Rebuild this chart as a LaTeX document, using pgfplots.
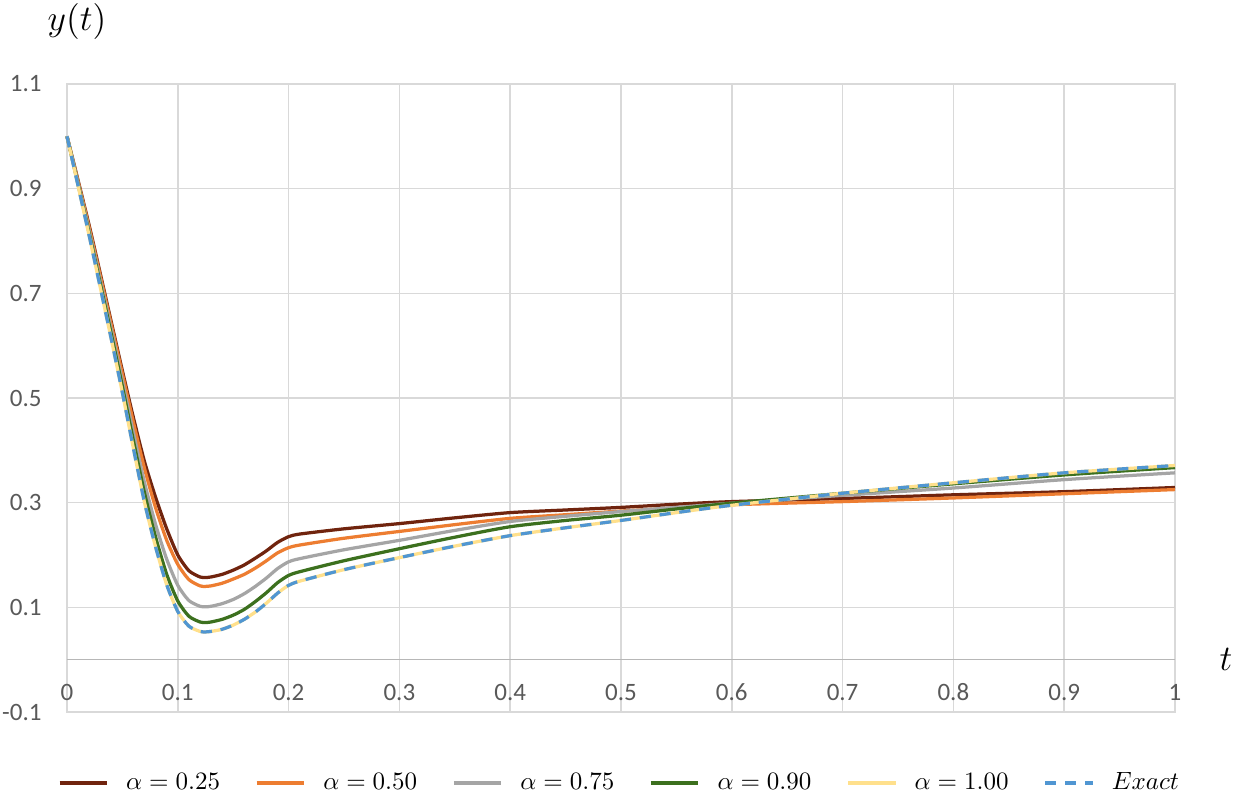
\documentclass[border=0pt]{standalone}
\usepackage[no-math]{fontspec}
\setmainfont{Carlito}
\usepackage{pgfplots}
\pgfplotsset{compat=1.18}
\definecolor{cBrown}{RGB}{112,36,14}
\definecolor{cOrange}{RGB}{237,125,49}
\definecolor{cGray}{RGB}{165,165,165}
\definecolor{cGreen}{RGB}{60,112,30}
\definecolor{cYellow}{RGB}{255,224,140}
\definecolor{cBlue}{RGB}{80,150,210}
\definecolor{cGrid}{RGB}{217,217,217}
\definecolor{cTick}{RGB}{89,89,89}

% t  y
\pgfplotstableread{
t y
0 1.000
0.02 0.830
0.04 0.645
0.05 0.552
0.06 0.462
0.07 0.378
0.08 0.310
0.09 0.250
0.10 0.200
0.11 0.170
0.12 0.158
0.125 0.157
0.13 0.158
0.14 0.163
0.15 0.171
0.16 0.181
0.17 0.194
0.18 0.208
0.19 0.224
0.20 0.235
0.21 0.240
0.25 0.250
0.30 0.260
0.35 0.271
0.40 0.281
0.45 0.286
0.50 0.291
0.55 0.297
0.60 0.302
0.70 0.308
0.80 0.315
0.90 0.321
1.00 0.329
}\aone
\pgfplotstableread{
t y
0 1.000
0.02 0.826
0.04 0.640
0.05 0.546
0.06 0.453
0.07 0.365
0.08 0.290
0.09 0.228
0.10 0.182
0.11 0.153
0.12 0.141
0.125 0.140
0.13 0.141
0.14 0.146
0.15 0.154
0.16 0.163
0.17 0.175
0.18 0.189
0.19 0.204
0.20 0.214
0.21 0.219
0.25 0.232
0.30 0.245
0.35 0.258
0.40 0.270
0.45 0.277
0.50 0.284
0.55 0.290
0.60 0.296
0.70 0.302
0.80 0.309
0.90 0.317
1.00 0.325
}\atwo
\pgfplotstableread{
t y
0 1.000
0.02 0.820
0.04 0.630
0.05 0.532
0.06 0.433
0.07 0.338
0.08 0.258
0.09 0.192
0.10 0.142
0.11 0.113
0.12 0.102
0.125 0.101
0.13 0.102
0.14 0.107
0.15 0.115
0.16 0.126
0.17 0.140
0.18 0.156
0.19 0.174
0.20 0.187
0.21 0.193
0.25 0.210
0.30 0.228
0.35 0.247
0.40 0.264
0.45 0.274
0.50 0.283
0.55 0.291
0.60 0.299
0.70 0.314
0.80 0.328
0.90 0.344
1.00 0.357
}\athree
\pgfplotstableread{
t y
0 1.000
0.02 0.815
0.04 0.622
0.05 0.522
0.06 0.418
0.07 0.318
0.08 0.234
0.09 0.163
0.10 0.112
0.11 0.083
0.12 0.072
0.125 0.071
0.13 0.072
0.14 0.077
0.15 0.085
0.16 0.096
0.17 0.111
0.18 0.128
0.19 0.147
0.20 0.161
0.21 0.168
0.25 0.189
0.30 0.212
0.35 0.234
0.40 0.254
0.45 0.266
0.50 0.276
0.55 0.288
0.60 0.299
0.70 0.318
0.80 0.336
0.90 0.353
1.00 0.367
}\afour
\pgfplotstableread{
t y
0 1.000
0.02 0.810
0.04 0.612
0.05 0.510
0.06 0.403
0.07 0.300
0.08 0.215
0.09 0.143
0.10 0.092
0.11 0.064
0.12 0.054
0.125 0.053
0.13 0.054
0.14 0.058
0.15 0.066
0.16 0.077
0.17 0.091
0.18 0.108
0.19 0.127
0.20 0.142
0.21 0.150
0.25 0.172
0.30 0.195
0.35 0.217
0.40 0.237
0.45 0.252
0.50 0.266
0.55 0.281
0.60 0.295
0.70 0.318
0.80 0.338
0.90 0.357
1.00 0.371
}\exact

\begin{document}
\begin{tikzpicture}
\path[use as bounding box] (0,0) rectangle (496.4pt,318.4pt);
\begin{axis}[
  at={(26.8pt,33.6pt)}, anchor=south west,
  scale only axis,
  width=443.2pt, height=251.2pt,
  xmin=0, xmax=1, ymin=-0.1, ymax=1.1,
  xtick={0,0.1,...,1.01},
  ytick={-0.1,0.1,0.3,0.5,0.7,0.9,1.1},
  xticklabels={0,0.1,0.2,0.3,0.4,0.5,0.6,0.7,0.8,0.9,1},
  yticklabels={-0.1,0.1,0.3,0.5,0.7,0.9,1.1},
  grid=major,
  grid style={cGrid, line width=0.6pt},
  axis line style={cGrid, line width=0.6pt},
  major tick length=0pt,
  tick label style={font=\fontsize{10}{12}\selectfont, text=cTick},
  /pgf/number format/assume math mode=true,
  xticklabel style={anchor=center, yshift=8pt},
  yticklabel style={anchor=east, inner sep=0pt, xshift=-10pt},
  clip=false,
  legend columns=6,
  legend style={at={(0.5,-0.113)}, anchor=center, draw=none,
    font=\fontsize{10}{12}\selectfont,
    /tikz/every even column/.append style={column sep=12pt}},
  legend image code/.code={\draw[#1] (0pt,0pt) -- (19pt,0pt); \path (24pt,0pt);},
  every axis plot/.append style={line width=1.3pt, smooth, tension=0.4},
]
\draw[cGray!80, line width=0.6pt] (axis cs:0,0) -- (axis cs:1,0);
\addplot[cBrown] table[x=t,y=y] {\aone};
\addlegendentry{$\alpha=0.25$}
\addplot[cOrange] table[x=t,y=y] {\atwo};
\addlegendentry{$\alpha=0.50$}
\addplot[cGray] table[x=t,y=y] {\athree};
\addlegendentry{$\alpha=0.75$}
\addplot[cGreen] table[x=t,y=y] {\afour};
\addlegendentry{$\alpha=0.90$}
\addplot[cYellow] table[x=t,y=y] {\exact};
\addlegendentry{$\alpha=1.00$}
\addplot[cBlue, dash pattern=on 4.5pt off 3.5pt] table[x=t,y=y] {\exact};
\addlegendentry{$Exact$}
\node[font=\fontsize{14.5}{16}\selectfont, anchor=center] at (rel axis cs:0,1) [xshift=4pt, yshift=24.8pt] {$y(t)$};
\node[font=\fontsize{14.5}{16}\selectfont, anchor=center] at (axis cs:1,0) [xshift=20.4pt] {$t$};
\end{axis}
\end{tikzpicture}
\end{document}
